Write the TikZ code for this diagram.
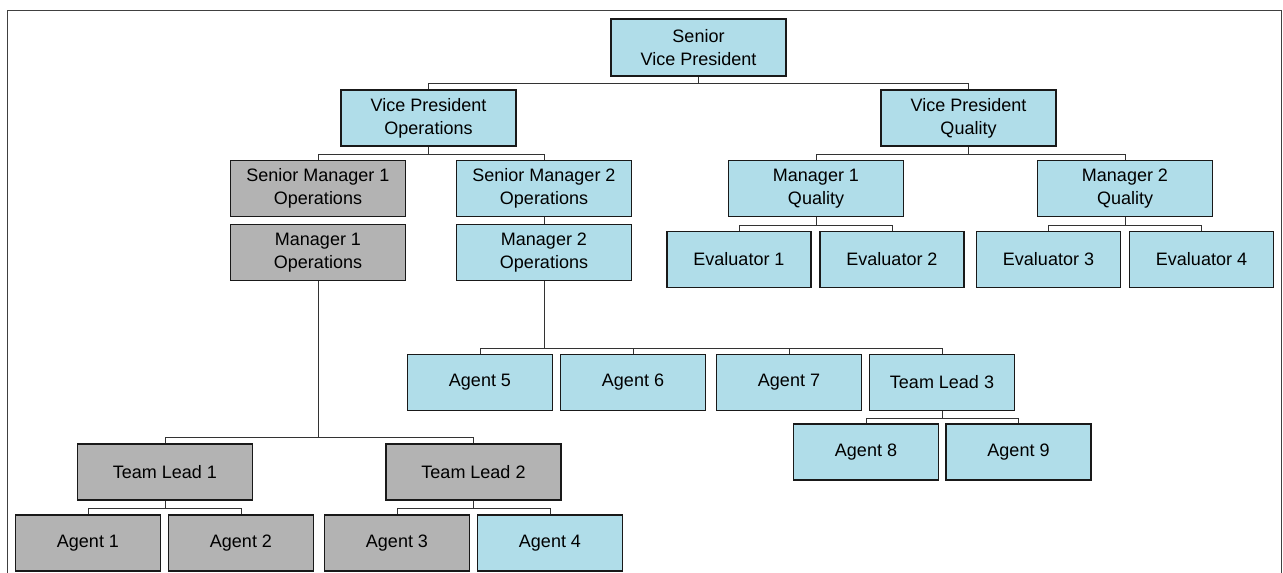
\documentclass[tikz,border=0pt]{standalone}
\usepackage{fontspec}
\setmainfont{Liberation Sans}
\usepackage{tikz}
\usetikzlibrary{calc}
\definecolor{boxblue}{RGB}{176,221,233}
\definecolor{boxgrey}{RGB}{179,179,179}

\begin{document}
\begin{tikzpicture}[x=1pt,y=-1pt,
    box/.style={draw=black!90,line width=1.7pt,inner sep=0pt,align=center,
      minimum height=56pt,font=\fontsize{18}{23}\selectfont},
    wide/.style={box,minimum width=175pt},
    narrow/.style={box,minimum width=145pt},
    blue/.style={fill=boxblue},
    grey/.style={fill=boxgrey},
    link/.style={draw=black!80,line width=0.9pt}]
  \useasboundingbox (0,0) rectangle (1283,573);
  % outer frame, open at the bottom
  \draw[black!75,line width=1pt] (7,573) -- (7,10) -- (1281,10) -- (1281,573);
  % top levels
  \node[wide,blue,minimum height=57pt] (svp) at (698.5,47.5) {Senior\\Vice President};
  \node[wide,blue] (vpops) at (428.5,118) {Vice President\\Operations};
  \node[wide,blue] (vpq) at (968.5,118) {Vice President\\Quality};
  % managers
  \node[wide,grey] (smops1) at (318,188.5) {Senior Manager 1\\Operations};
  \node[wide,blue] (smops2) at (544,188.5) {Senior Manager 2\\Operations};
  \node[wide,blue] (mq1) at (816,188.5) {Manager 1\\Quality};
  \node[wide,blue] (mq2) at (1125,188.5) {Manager 2\\Quality};
  \node[wide,grey] (mops1) at (318,252.5) {Manager 1\\Operations};
  \node[wide,blue] (mops2) at (544,252.5) {Manager 2\\Operations};
  % evaluators
  \foreach \n/\x in {1/739,2/892,3/1048.5,4/1201.5}
    \node[narrow,blue,minimum width=144pt] (ev\n) at (\x,259.5) {Evaluator \n};
  % agents under manager 2
  \foreach \n/\x in {5/480,6/633,7/789}
    \node[narrow,blue] (ag\n) at (\x,382.5) {Agent \n};
  \node[narrow,blue] (tl3) at (942,382.5) {Team Lead 3};
  \node[narrow,blue] (ag8) at (866,452) {Agent 8};
  \node[narrow,blue] (ag9) at (1018.5,452) {Agent 9};
  % team leads under manager 1
  \node[wide,grey] (tl1) at (165,472) {Team Lead 1};
  \node[wide,grey] (tl2) at (473.5,472) {Team Lead 2};
  \node[narrow,grey] (ag1) at (88,543) {Agent 1};
  \node[narrow,grey] (ag2) at (241,543) {Agent 2};
  \node[narrow,grey] (ag3) at (397,543) {Agent 3};
  \node[narrow,blue] (ag4) at (550,543) {Agent 4};
  % elbow links: parent/child/drop to the bus
  \foreach \p/\c/\d in {svp/vpops/7,svp/vpq/7,vpops/smops1/8,vpops/smops2/8,
      vpq/mq1/8,vpq/mq2/8,mq1/ev1/8,mq1/ev2/8,mq2/ev3/8,mq2/ev4/8,
      mops2/ag5/67,mops2/ag6/67,mops2/ag7/67,mops2/tl3/67,tl3/ag8/7,tl3/ag9/7,
      mops1/tl1/156,mops1/tl2/156,tl1/ag1/8,tl1/ag2/8,tl2/ag3/8,tl2/ag4/8}
    \draw[link] (\p.south) -- ++(0,\d) -| (\c.north);
  \draw[link] (smops2.south) -- (mops2.north);
\end{tikzpicture}
\end{document}
